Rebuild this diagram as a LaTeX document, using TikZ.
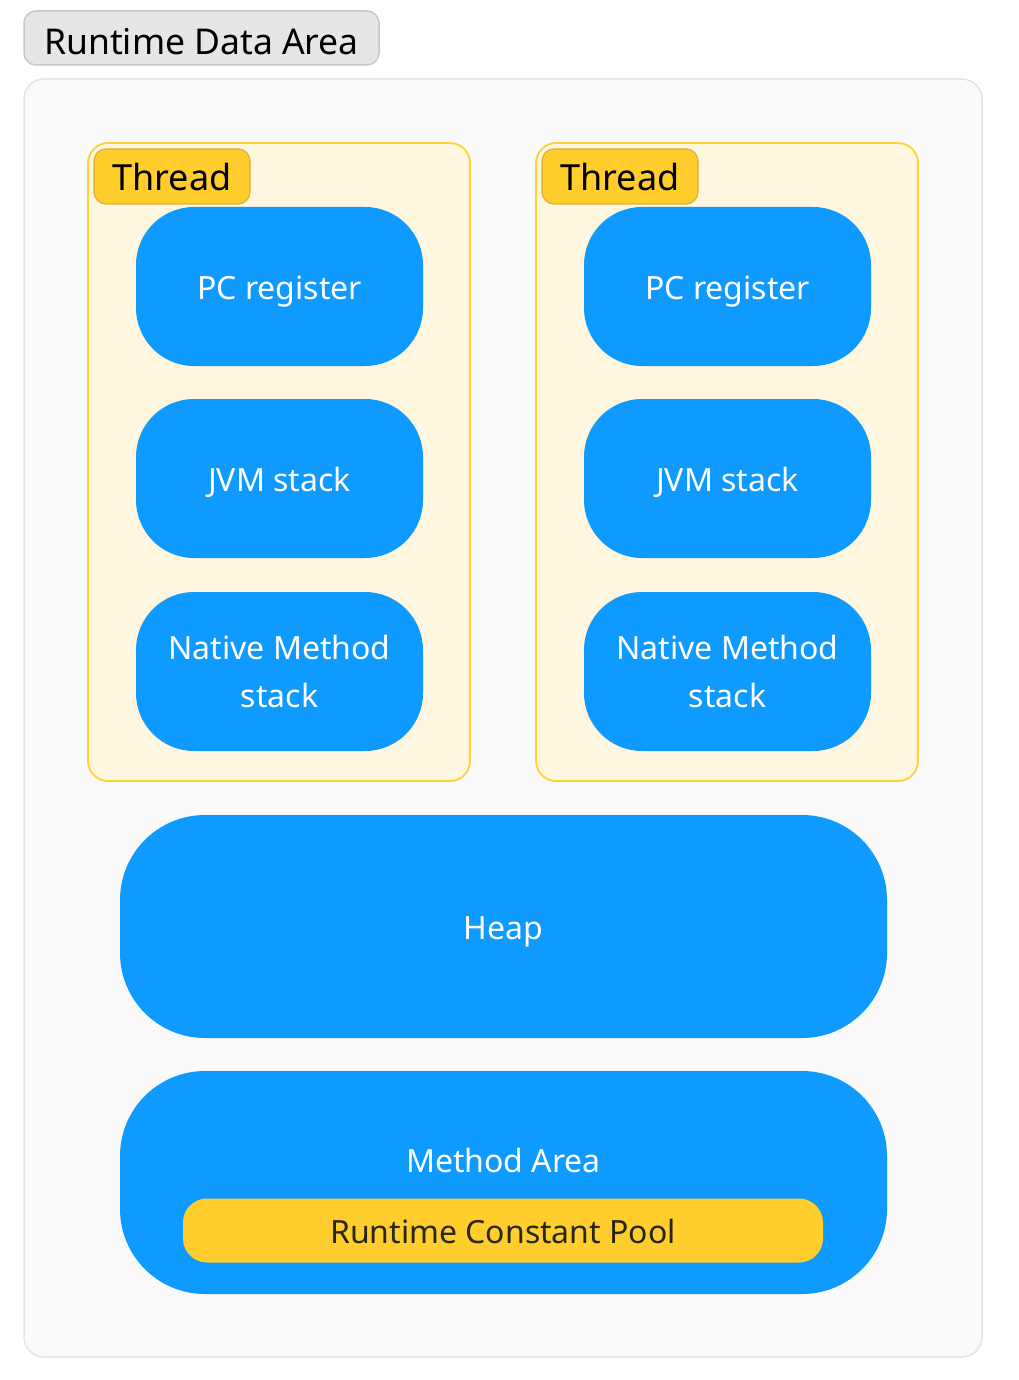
\documentclass[tikz,border=0pt]{standalone}
\usepackage{fontspec}
\setmainfont{Noto Sans}
\definecolor{areablue}{HTML}{0F9AFF}
\definecolor{tagyellow}{HTML}{FFCD2C}
\definecolor{tagedge}{HTML}{DDB12E}
\definecolor{threadfill}{HTML}{FFF6E0}
\definecolor{threadedge}{HTML}{FFD233}
\definecolor{outerfill}{HTML}{FAFAFA}
\definecolor{outeredge}{HTML}{E4E4E4}
\definecolor{titlefill}{HTML}{E6E6E6}
\definecolor{titleedge}{HTML}{C8C8C8}
\definecolor{pooltext}{HTML}{2A2615}

\tikzset{>=latex}

\begin{document}
\begin{tikzpicture}[x=1pt,y=-1pt,
  capcentred/.style={text height=#1,text depth=0pt},
  capcentred/.default=26pt,
  titletag/.style={draw=titleedge,fill=titlefill,line width=1.5pt,rounded corners=12pt,
    font=\fontsize{35.5}{44}\selectfont,text=black,inner sep=0pt,capcentred=33pt},
  outerbox/.style={draw=outeredge,fill=outerfill,line width=1.5pt,rounded corners=20pt,inner sep=0pt},
  threadbox/.style={draw=threadedge,fill=threadfill,line width=1.8pt,rounded corners=20pt,inner sep=0pt},
  threadtag/.style={draw=tagedge,fill=tagyellow,line width=1.2pt,rounded corners=12pt,
    minimum width=156pt,minimum height=55pt,inner sep=0pt,font=\fontsize{36}{43}\selectfont,text=black,
    capcentred=28pt},
  block/.style={fill=areablue,rounded corners=58pt,inner sep=0pt,text=white,align=center,
    font=\fontsize{32}{48}\selectfont},
  cell/.style={block,minimum width=287pt,minimum height=159pt},
  bigblock/.style={block,rounded corners=85pt,minimum width=767pt,minimum height=223pt},
  blocktext/.style={text=white,inner sep=0pt,font=\fontsize{32}{48}\selectfont,capcentred},
  pool/.style={fill=tagyellow,rounded corners=24pt,minimum width=640pt,minimum height=64pt,
    inner sep=0pt,text=pooltext,font=\fontsize{32}{40}\selectfont,capcentred}]
  \useasboundingbox (0,0) rectangle (1018,1380);
  % frame and heading
  \node[outerbox,minimum width=958pt,minimum height=1278pt] (rda) at (503,718) {};
  \node[titletag,minimum width=355pt,minimum height=54pt] (title) at (201.5,38) {Runtime Data Area};
  % one column per thread
  \foreach \x/\n in {279/a,727/b}{
    \node[threadbox,minimum width=382pt,minimum height=638pt] (thread\n) at (\x,462) {};
    \node[threadtag] (tag\n) at (\x-107,176.5) {Thread};
    \node[cell,capcentred] (pc\n) at (\x+0.5,286.5) {PC register};
    \node[cell,capcentred] (jvm\n) at (\x+0.5,478.5) {JVM stack};
    \node[cell] (native\n) at (\x+0.5,671.5) {Native Method\\stack};
  }
  % shared areas
  \node[bigblock,capcentred] (heap) at (503.5,926.5) {Heap};
  \node[bigblock] (method) at (503.5,1182.5) {};
  \node[blocktext] (methodlbl) at (503.5,1159) {Method Area};
  \node[pool] (constpool) at (503,1230.5) {Runtime Constant Pool};
\end{tikzpicture}
\end{document}
